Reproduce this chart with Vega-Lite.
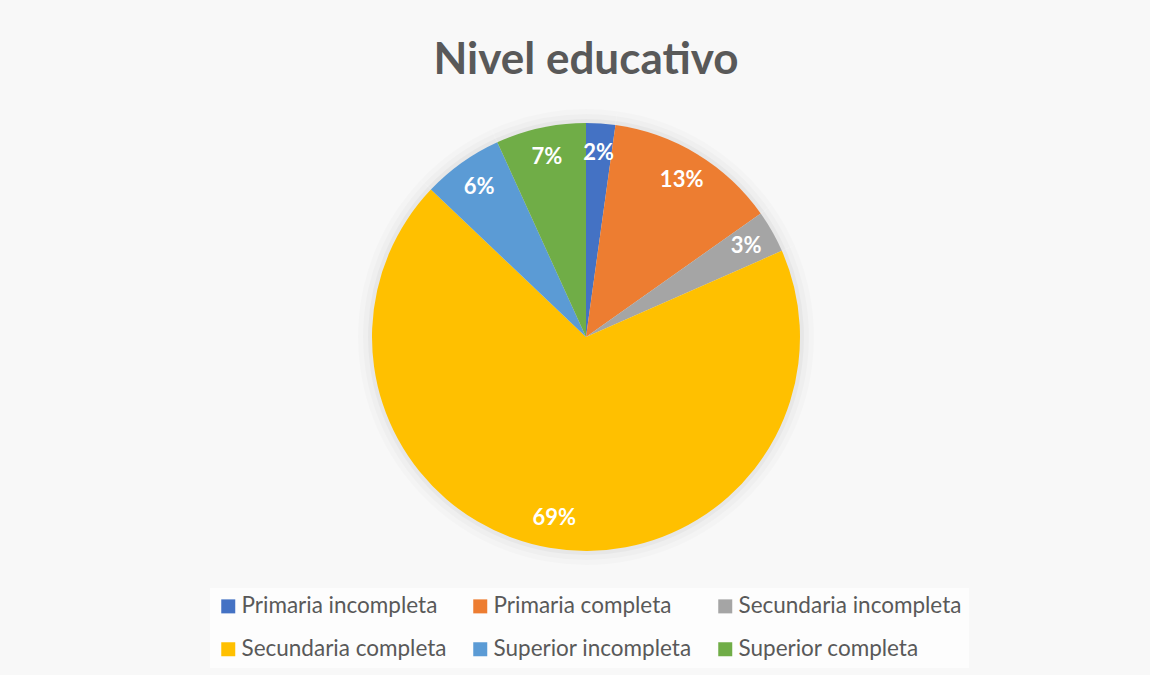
{
  "$schema": "https://vega.github.io/schema/vega-lite/v6.json",
  "width": 1128,
  "height": 428,
  "autosize": {"type": "none"},
  "padding": {"left": 22, "top": 123, "right": 0, "bottom": 124},
  "background": "#f8f8f8",
  "title": {
    "text": "Nivel educativo",
    "font": "Lato",
    "fontSize": 44,
    "fontWeight": "bold",
    "color": "#595959",
    "anchor": "middle",
    "baseline": "alphabetic",
    "offset": -9
  },
  "data": {
    "values": [
      {"idx": 1, "nivel": "Primaria incompleta", "pct": 2.2, "label": "2%"},
      {"idx": 2, "nivel": "Primaria completa", "pct": 13.0, "label": "13%"},
      {"idx": 3, "nivel": "Secundaria incompleta", "pct": 3.2, "label": "3%"},
      {"idx": 4, "nivel": "Secundaria completa", "pct": 68.7, "label": "69%"},
      {"idx": 5, "nivel": "Superior incompleta", "pct": 6.1, "label": "6%"},
      {"idx": 6, "nivel": "Superior completa", "pct": 6.8, "label": "7%"}
    ]
  },
  "encoding": {
    "theta": {"field": "pct", "type": "quantitative", "stack": true},
    "order": {"field": "idx", "type": "quantitative"}
  },
  "layer": [
    {"mark": {"type": "arc", "outerRadius": 228, "fill": "#000000", "opacity": 0.015}},
    {"mark": {"type": "arc", "outerRadius": 223, "fill": "#000000", "opacity": 0.02}},
    {"mark": {"type": "arc", "outerRadius": 218, "fill": "#000000", "opacity": 0.03}},
    {
      "mark": {"type": "arc", "outerRadius": 214},
      "encoding": {
        "color": {
          "field": "nivel",
          "type": "nominal",
          "sort": null,
          "scale": {
            "domain": ["Primaria incompleta", "Primaria completa", "Secundaria incompleta", "Secundaria completa", "Superior incompleta", "Superior completa"],
            "range": ["#4472C4", "#ED7D31", "#A5A5A5", "#FFC000", "#5B9BD5", "#70AD47"]
          },
          "legend": {
            "title": null,
            "orient": "none",
            "legendX": 188,
            "legendY": 465,
            "direction": "horizontal",
            "columns": 3,
            "columnPadding": 22,
            "rowPadding": 20,
            "symbolType": "square",
            "symbolSize": 196,
            "symbolStrokeWidth": 0,
            "labelFont": "Lato",
            "labelFontSize": 22.5,
            "labelColor": "#595959",
            "labelOffset": 2,
            "labelLimit": 400,
            "fillColor": "#fdfdfd",
            "padding": 7
          }
        }
      }
    },
    {
      "mark": {"type": "text", "radius": 184, "font": "Lato", "fontSize": 22, "fontWeight": "bold", "fill": "#ffffff"},
      "encoding": {"text": {"field": "label", "type": "nominal"}}
    }
  ],
  "config": {"view": {"stroke": null}}
}
